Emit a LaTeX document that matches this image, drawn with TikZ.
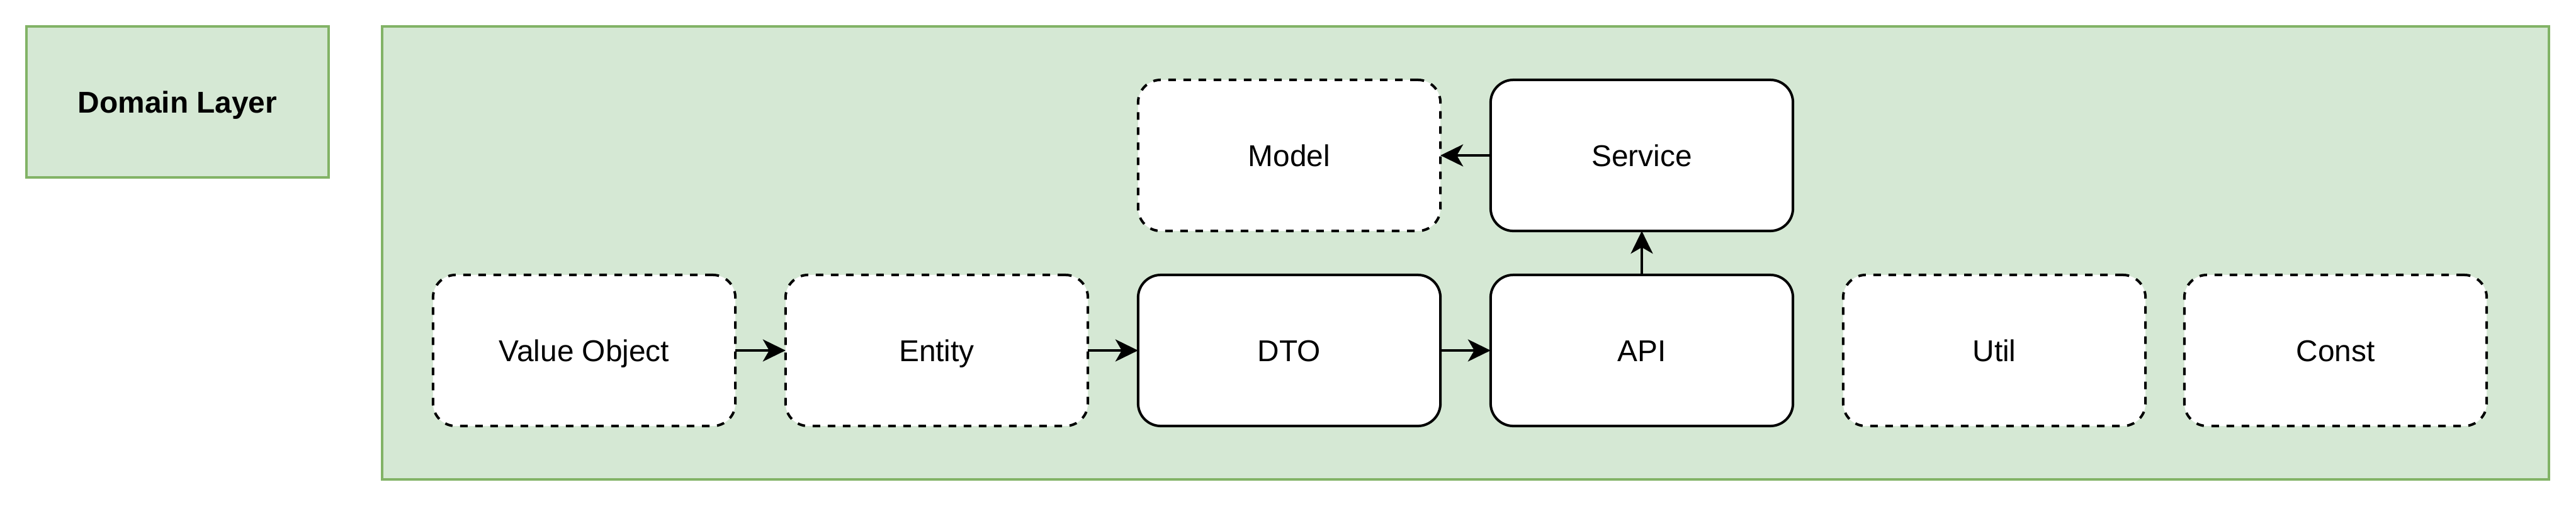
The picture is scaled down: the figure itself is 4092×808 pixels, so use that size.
\documentclass[tikz,border=0pt]{standalone}
\usepackage{fontspec}
\setmainfont{Liberation Sans}
\usetikzlibrary{arrows.meta}
\definecolor{layerfill}{HTML}{D5E8D4}
\definecolor{layerdraw}{HTML}{82B366}
\tikzset{
  layer/.style={draw=layerdraw, fill=layerfill, line width=0.04cm, inner sep=0pt, outer sep=0pt},
  box/.style={draw=black, fill=white, line width=0.04cm, rounded corners=0.36cm,
    minimum width=4.8cm, minimum height=2.4cm, inner sep=0pt, outer sep=0pt,
    font=\fontsize{13.6pt}{16pt}\selectfont, text height=0.34cm, text depth=0cm, align=center},
  dashbox/.style={box, dash pattern=on 0.12cm off 0.12cm},
  conn/.style={line width=0.04cm, draw=black,
    -{Stealth[length=0.36cm, width=0.35cm, inset=0.1cm]}},
}
\begin{document}
\begin{tikzpicture}[x=0.01cm, y=-0.01cm]
\useasboundingbox (0,0) rectangle (4092,808);
\node[layer, minimum width=4.8cm, minimum height=2.4cm,
  font=\bfseries\fontsize{13.6pt}{16pt}\selectfont, text height=0.34cm, text depth=0cm]
  (domain) at (282,162) {Domain Layer};
\node[layer, minimum width=34.4cm, minimum height=7.2cm] (container) at (2328,402) {};
\node[dashbox] (vo) at (928,557) {Value Object};
\node[dashbox] (entity) at (1488,557) {Entity};
\node[box] (dto) at (2048,557) {DTO};
\node[box] (api) at (2608,557) {API};
\node[dashbox] (util) at (3168,557) {Util};
\node[dashbox] (const) at (3710,557) {Const};
\node[dashbox] (model) at (2048,247) {Model};
\node[box] (service) at (2608,247) {Service};
\draw[conn] (vo) -- (entity);
\draw[conn] (entity) -- (dto);
\draw[conn] (dto) -- (api);
\draw[conn] (api) -- (service);
\draw[conn] (service) -- (model);
\end{tikzpicture}
\end{document}
